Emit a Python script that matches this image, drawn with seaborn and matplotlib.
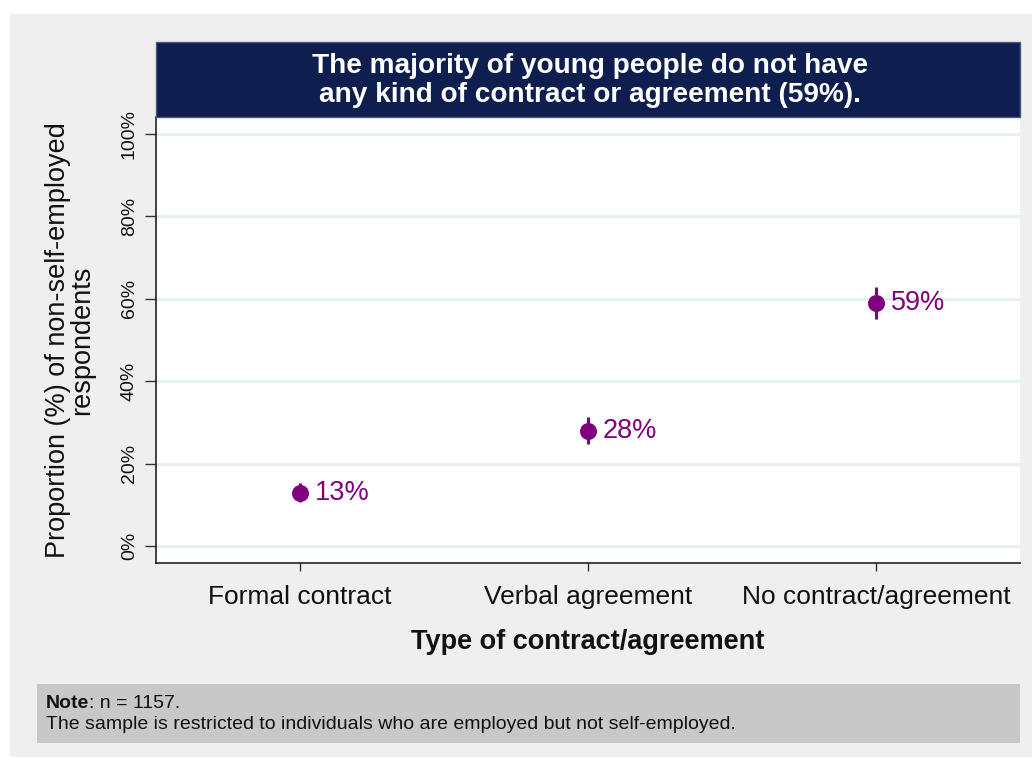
import matplotlib
matplotlib.use("Agg")
import matplotlib.pyplot as plt
from matplotlib.patches import Rectangle
import seaborn as sns
import pandas as pd

# Survey estimates with confidence bounds (percent)
categories = ["Formal contract", "Verbal agreement", "No contract/agreement"]
share = [13, 28, 59]
ci_low = [10.6, 24.7, 55.1]
ci_high = [15.4, 31.3, 62.9]
y_ticks = [0, 20, 40, 60, 80, 100]
y_tick_labels = ["0%", "20%", "40%", "60%", "80%", "100%"]

title_text = "The majority of young people do not have\nany kind of contract or agreement (59%)."
x_title = "Type of contract/agreement"
y_title = "Proportion (%) of non-self-employed\nrespondents"
note_head = "Note"
note_line1 = ": n = 1157."
note_line2 = "The sample is restricted to individuals who are employed but not self-employed."

df = pd.DataFrame({"category": categories, "share": share,
                   "low": ci_low, "high": ci_high})

sns.set_style("white")
plt.rcParams["font.family"] = ["Liberation Sans", "DejaVu Sans"]

PURPLE = "#800080"
NAVY = "#0e1f4f"
BG = "#efefef"

fig = plt.figure(figsize=(10.32, 7.61), dpi=100)
fig.patch.set_facecolor("white")
W, H = 1032, 761

def fx(px):
    return px / W

def fy(py):
    return 1 - py / H

# outer grey panel
fig.add_artist(Rectangle((fx(10), fy(757)), fx(1032) - fx(10), fy(14) - fy(757),
                         transform=fig.transFigure, facecolor=BG,
                         edgecolor="none", zorder=0))

ax = fig.add_axes([fx(156), fy(563), fx(1020) - fx(156), fy(117) - fy(563)])
ax.set_facecolor("white")

# grid lines
for t in y_ticks:
    ax.axhline(t, color="#e6eff1", lw=2.2, zorder=0)

# confidence intervals
ax.vlines(range(len(categories)), df["low"], df["high"], color=PURPLE, lw=2.2, zorder=2)
sns.scatterplot(data=df, x="category", y="share", ax=ax, color=PURPLE, s=150,
                linewidth=0, zorder=3, legend=False)

for i, v in enumerate(share):
    ax.annotate(f"{v}%", xy=(i, v), xytext=(10.5, 0), textcoords="offset points",
                ha="left", va="center", color=PURPLE, fontsize=19.5)

ax.set_xlim(-0.5, 2.5)
ax.set_ylim(-4.1, 104.1)
ax.set_yticks(y_ticks)
ax.set_yticklabels(y_tick_labels, rotation=90, va="center", fontsize=14, color="#111111")
ax.set_xticks(range(len(categories)))
ax.set_xticklabels(categories, fontsize=19, color="#111111")
ax.tick_params(axis="y", direction="out", length=8, width=1, pad=5, left=True, color="#333333")
ax.tick_params(axis="x", direction="out", length=6, width=1, pad=10, bottom=True, color="#333333")

for side in ["top", "right"]:
    ax.spines[side].set_visible(False)
for side in ["left", "bottom"]:
    ax.spines[side].set_color("#222222")
    ax.spines[side].set_linewidth(1.2)

ax.set_xlabel(x_title, fontsize=19.5, fontweight="bold", labelpad=14, color="#111111")
ax.set_ylabel(y_title, fontsize=19.5, linespacing=0.95, color="#111111")
ax.yaxis.set_label_coords(-0.07, 0.5)

# title band
fig.add_artist(Rectangle((fx(156), fy(117)), fx(1020) - fx(156), fy(42) - fy(117),
                         transform=fig.transFigure, facecolor=NAVY,
                         edgecolor="#4a5a80", lw=1, zorder=1))
fig.text(fx(590), fy(80.5), title_text, ha="center", va="center", color="white",
         fontsize=20.2, fontweight="bold", linespacing=1.15)

# note box
fig.add_artist(Rectangle((fx(37), fy(743)), fx(1020) - fx(37), fy(684) - fy(743),
                         transform=fig.transFigure, facecolor="#c8c8c8",
                         edgecolor="none", zorder=1))
t1 = fig.text(fx(46), fy(712), note_head, ha="left", va="bottom", fontsize=14,
              fontweight="bold", color="#111111")
fig.add_artist(plt.Annotation(note_line1, xy=(1, 0), xycoords=t1, xytext=(0, 0),
                              textcoords="offset points", ha="left", va="bottom",
                              fontsize=14, color="#111111"))
fig.text(fx(46), fy(733), note_line2, ha="left", va="bottom", fontsize=14,
         color="#111111")

fig.savefig("out.png", dpi=100, facecolor=fig.get_facecolor())
